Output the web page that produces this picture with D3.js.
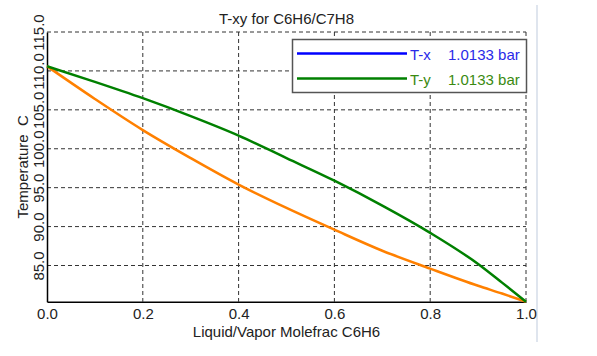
<!DOCTYPE html>
<html><head><meta charset="utf-8">
<script src="https://cdn.jsdelivr.net/npm/d3@7"></script>
<style>body{margin:0;background:#fff}svg{display:block}text{font-family:"Liberation Sans",Arial,sans-serif}</style>
</head><body><svg id="c" width="597" height="356"></svg>
<script>
const xs = [0, 0.1, 0.2, 0.3, 0.4, 0.5, 0.6, 0.7, 0.8, 0.9, 0.95, 1.0];
const tX = [110.6, 106.4, 102.4, 98.8, 95.4, 92.4, 89.6, 86.9, 84.6, 82.4, 81.4, 80.35];
const tY = [110.6, 108.6, 106.5, 104.2, 101.7, 98.8, 95.9, 92.7, 89.2, 85.2, 82.8, 80.35];
const xTicks = [0, 0.2, 0.4, 0.6, 0.8, 1.0];
const yTicks = [85, 90, 95, 100, 105, 110, 115];
const title = "T-xy for C6H6/C7H8";
const xTitle = "Liquid/Vapor Molefrac C6H6";
const yTitle = "Temperature  C";
const legendNames = ["T-x", "T-y"];
const legendValues = ["1.0133 bar", "1.0133 bar"];

const svg = d3.select("#c");
const L = 47, R = 526, T = 32, B = 301.7;
const x = d3.scaleLinear().domain([0, 1]).range([L, R]);
const y = d3.scaleLinear().domain([80.35, 115]).range([B, T]);

// window edge
svg.append("line").attr("x1", 537).attr("x2", 537).attr("y1", 5).attr("y2", 342)
  .attr("stroke", "#dfe5ee").attr("stroke-width", 2);

// grid
const g = svg.append("g");
g.selectAll(".gx").data(xTicks.filter(d => d > 0)).enter().append("line")
  .attr("x1", d => x(d)).attr("x2", d => x(d)).attr("y1", T).attr("y2", B)
  .attr("stroke", "#333").attr("stroke-dasharray", "4,3").attr("stroke-width", 1);
g.selectAll(".gy").data(yTicks).enter().append("line")
  .attr("x1", L).attr("x2", R).attr("y1", d => y(d)).attr("y2", d => y(d))
  .attr("stroke", "#333").attr("stroke-dasharray", "4,3").attr("stroke-width", 1);

// axes
const xAxis = d3.axisBottom(x).tickValues(xTicks).tickFormat(d3.format(".1f")).tickSize(0).tickPadding(7);
const gx = svg.append("g").attr("transform", `translate(0,${B})`).call(xAxis);
gx.select(".domain").attr("stroke", "#000").attr("stroke-width", 1.5);
gx.selectAll("text").attr("font-size", 15).attr("fill", "#222").attr("font-family", "Liberation Sans, Arial, sans-serif").attr("dy", "0.71em");

const yAxis = d3.axisLeft(y).tickValues(yTicks).tickFormat(d3.format(".1f")).tickSize(0).tickPadding(0);
const gy = svg.append("g").attr("transform", `translate(${L},0)`).call(yAxis);
gy.select(".domain").attr("stroke", "#000").attr("stroke-width", 1.5);
gy.selectAll(".tick text").attr("font-size", 15).attr("fill", "#222")
  .attr("font-family", "Liberation Sans, Arial, sans-serif")
  .attr("text-anchor", "middle").attr("x", 0).attr("dy", 0)
  .attr("transform", "translate(-3.5,0) rotate(-90)");

// curves
const line = d3.line().x(d => x(d[0])).y(d => y(d[1])).curve(d3.curveMonotoneX);
svg.append("path").datum(xs.map((v, i) => [v, tX[i]])).attr("d", line)
  .attr("fill", "none").attr("stroke", "#ff8000").attr("stroke-width", 2.5);
svg.append("path").datum(xs.map((v, i) => [v, tY[i]])).attr("d", line)
  .attr("fill", "none").attr("stroke", "#008000").attr("stroke-width", 2.5);

// titles
svg.append("text").attr("x", (L + R) / 2).attr("y", 24).attr("text-anchor", "middle")
  .attr("font-size", 15).attr("fill", "#222").text(title);
svg.append("text").attr("x", (L + R) / 2).attr("y", 336.5).attr("text-anchor", "middle")
  .attr("font-size", 15).attr("fill", "#222").text(xTitle);
svg.append("text").attr("transform", `translate(28,${(T + B) / 2}) rotate(-90)`)
  .attr("text-anchor", "middle").attr("font-size", 15).attr("fill", "#222")
  .attr("xml:space", "preserve").style("white-space", "pre").text(yTitle);

// legend
const lg = svg.append("g");
lg.append("rect").attr("x", 292.5).attr("y", 39.5).attr("width", 234).attr("height", 53)
  .attr("fill", "#fff").attr("stroke", "#555").attr("stroke-width", 1.5);
const lcol = ["#0000ff", "#008000"];
const tcol = ["#2a2ae8", "#3a8a10"];
legendNames.forEach((n, i) => {
  const yy = 53.5 + i * 25;
  lg.append("line").attr("x1", 297).attr("x2", 407).attr("y1", yy).attr("y2", yy)
    .attr("stroke", lcol[i]).attr("stroke-width", 2.5);
  lg.append("text").attr("x", 410).attr("y", yy + 6).attr("font-size", 15).attr("fill", tcol[i]).text(n);
  lg.append("text").attr("x", 448).attr("y", yy + 6).attr("font-size", 15).attr("fill", tcol[i]).text(legendValues[i]);
});
</script></body></html>
